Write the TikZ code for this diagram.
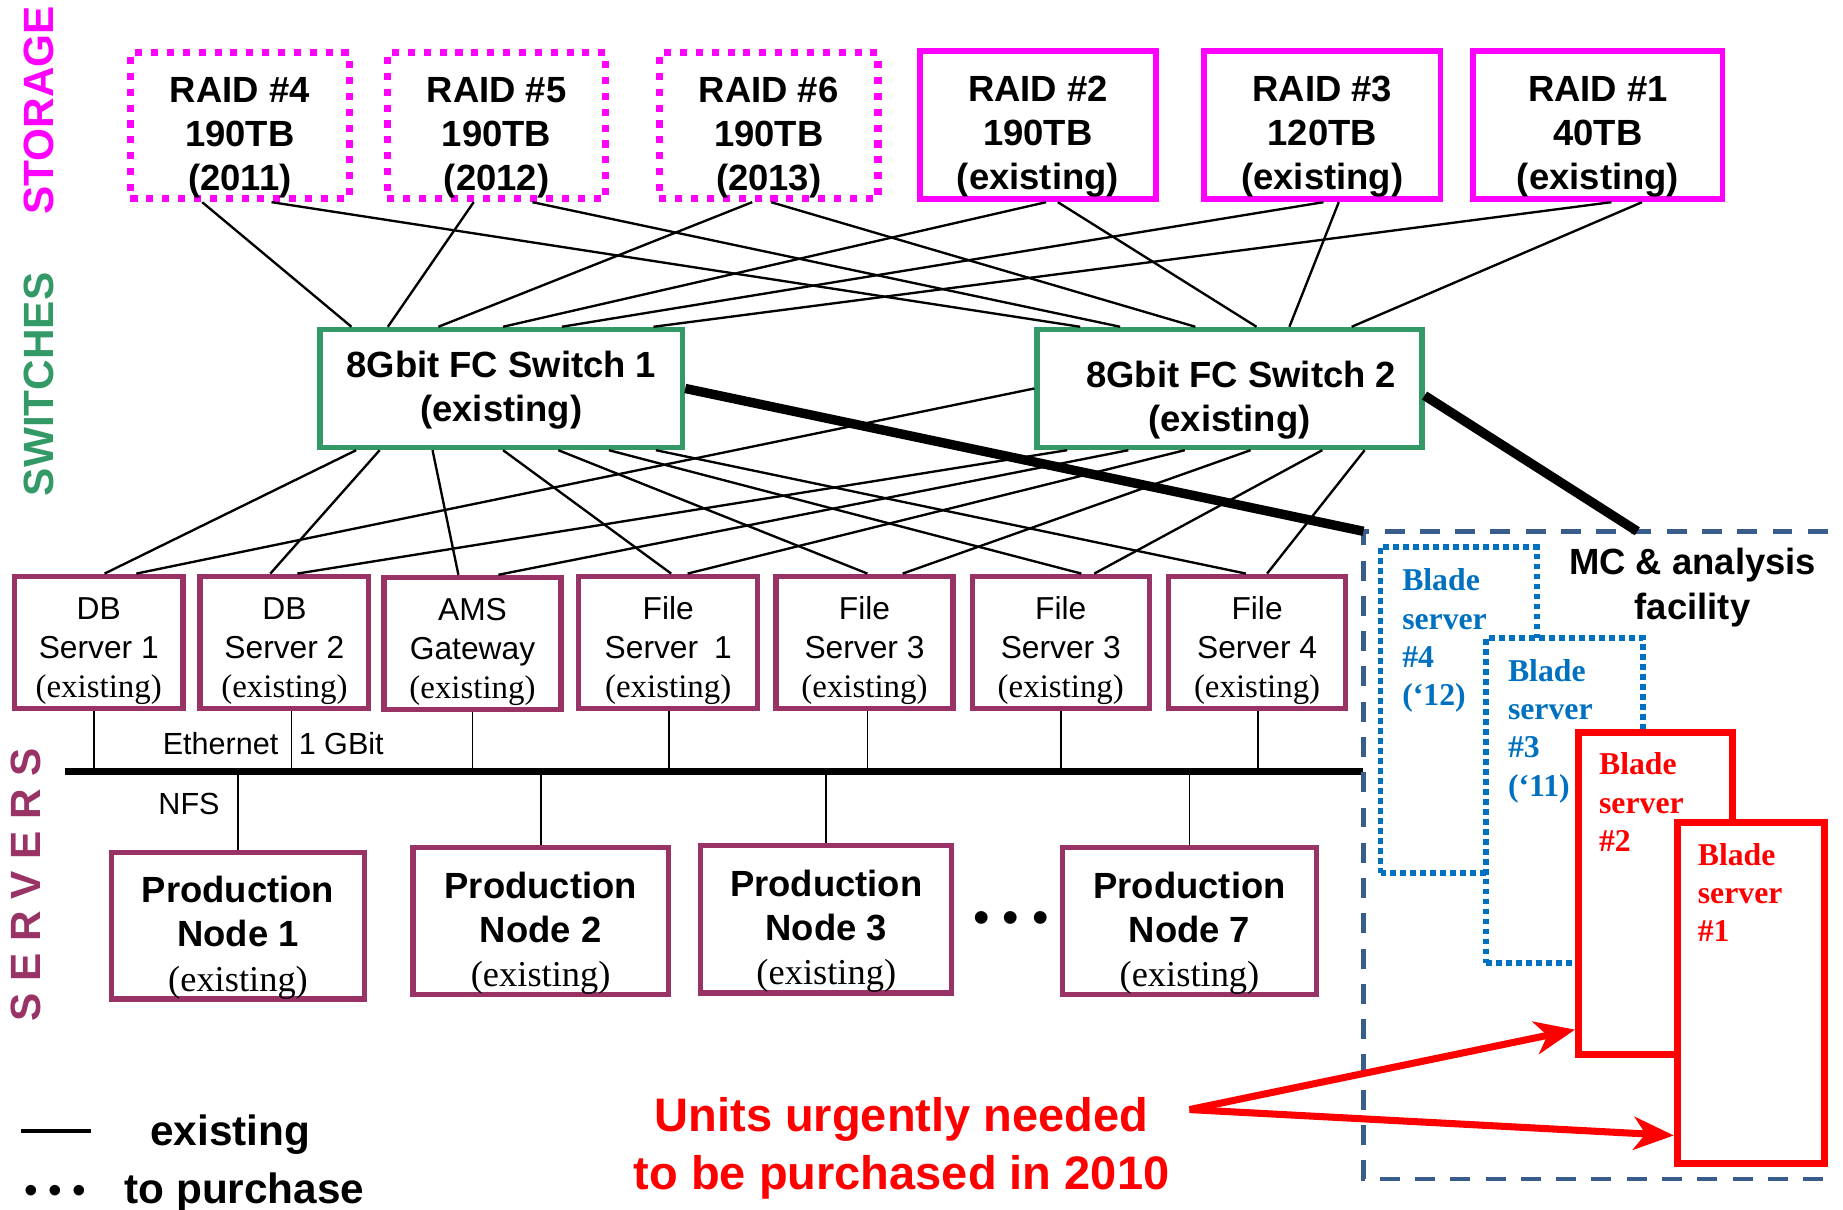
\documentclass[tikz,border=0pt]{standalone}
\usepackage{fontspec}
\setmainfont{Liberation Sans}
\newfontfamily\arial{Liberation Sans}
\newfontfamily\tnr{Liberation Serif}
\usetikzlibrary{arrows.meta,calc}
\definecolor{mag}{RGB}{255,0,255}
\definecolor{swgreen}{RGB}{51,153,102}
\definecolor{srvpurple}{RGB}{153,51,102}
\definecolor{mcblue}{RGB}{56,93,138}
\definecolor{bladeblue}{RGB}{0,112,192}
\definecolor{urgred}{RGB}{255,0,0}
\begin{document}
\begin{tikzpicture}[x=1pt,y=-1pt,
  raidnew/.style={draw=mag, line width=6pt, dash pattern=on 6pt off 7.5pt, minimum width=186pt, minimum height=124pt, inner sep=0pt, align=center, font=\arial\bfseries\fontsize{31}{37.5}\selectfont},
  raidold/.style={draw=mag, line width=5pt, minimum width=201pt, minimum height=126pt, inner sep=0pt, align=center, font=\arial\bfseries\fontsize{31}{37.5}\selectfont},
  switchbox/.style={draw=swgreen, line width=4.5pt, minimum height=100.5pt, inner sep=0pt, align=center, font=\arial\bfseries\fontsize{31}{37.5}\selectfont},
  serverbox/.style={draw=srvpurple, line width=4.5pt, minimum width=150.5pt, minimum height=112.5pt, inner sep=0pt, align=center, font=\arial\fontsize{27}{33}\selectfont},
  prodbox/.style={draw=srvpurple, line width=4.5pt, minimum width=215.5pt, minimum height=122.5pt, inner sep=0pt, align=center, font=\arial\bfseries\fontsize{31}{37.5}\selectfont},
  bladedot/.style={draw=bladeblue, fill=white, line width=5pt, dash pattern=on 5pt off 3.5pt, inner sep=18.5pt, text=bladeblue},
  bladered/.style={draw=urgred, fill=white, line width=6pt, inner sep=17.5pt, text=urgred},
  conn/.style={line width=2pt},
  drop/.style={line width=1.6pt},
  thickconn/.style={line width=8pt},
  redarrow/.style={draw=urgred, line width=6pt, -{Stealth[length=34pt, width=28pt, inset=10pt]}},
  sidelabel/.style={rotate=90, font=\arial\bfseries\fontsize{36}{36}\selectfont},
  plain/.style={font=\arial\fontsize{26}{26}\selectfont, inner sep=0pt},
  legendtext/.style={font=\arial\bfseries\fontsize{36}{36}\selectfont, inner sep=0pt}
]
\useasboundingbox (0,0) rectangle (1568,1029);

\newcommand{\ex}[1]{{\tnr\fontsize{#1}{33}\selectfont\mdseries (existing)}}
\newcommand{\st}[1]{\rule{0pt}{#1pt}}
\newcommand{\bladetxt}[3]{\parbox[c][#1pt][t]{#2pt}{\raggedright\tnr\bfseries\fontsize{27}{32.5}\selectfont #3}}

% side labels
\node[sidelabel, text=mag] (lstorage) at (33,94) {STORAGE};
\node[sidelabel, text=swgreen] (lswitches) at (33,327) {SWITCHES};
\node[sidelabel, text=srvpurple] (lservers) at (22,753) {S E R V E R S};

% storage
\node[raidnew] (r4) at (204,107) {\st{41}RAID \#4\\190TB\\(2011)};
\node[raidnew] (r5) at (422.5,107) {\st{41}RAID \#5\\190TB\\(2012)};
\node[raidnew] (r6) at (654,107) {\st{41}RAID \#6\\190TB\\(2013)};
\node[raidold] (r2) at (883,106.5) {\st{41}RAID \#2\\190TB\\(existing)};
\node[raidold] (r3) at (1125,106.5) {\st{41}RAID \#3\\120TB\\(existing)};
\node[raidold, minimum width=212pt] (r1) at (1359.5,106.5) {\st{41}RAID \#1\\40TB\\(existing)};

% switches
\node[switchbox, minimum width=308.5pt] (s1) at (426.5,330.5) {\st{26}8Gbit FC Switch 1\\(existing)};
\node[switchbox, minimum width=327.5pt] (s2) at (1046,330.5) {\st{42}\hspace*{20pt}8Gbit FC Switch 2\\(existing)};

% servers
\node[serverbox, minimum width=143.5pt] (db1) at (84,546.5) {\st{33.5}DB\\Server 1\\\ex{28}};
\node[serverbox, minimum width=143.5pt] (db2) at (242,546.5) {\st{33.5}DB\\Server 2\\\ex{28}};
\node[serverbox] (ams) at (402,547.5) {\st{33.5}AMS\\Gateway\\\ex{28}};
\node[serverbox, minimum width=152.5pt] (f1) at (568.5,546.5) {\st{33.5}File\\Server\enspace 1\\\ex{28}};
\node[serverbox] (f3) at (735.5,546.5) {\st{33.5}File\\Server 3\\\ex{28}};
\node[serverbox] (f3b) at (902.5,546.5) {\st{33.5}File\\Server 3\\\ex{28}};
\node[serverbox] (f4) at (1069.5,546.5) {\st{33.5}File\\Server 4\\\ex{28}};

% production nodes
\node[prodbox] (pn1) at (202.5,787.5) {\st{43}Production\\Node 1\\\ex{31}};
\node[prodbox, minimum width=217.5pt] (pn2) at (460,783.5) {\st{43}Production\\Node 2\\\ex{31}};
\node[prodbox, minimum width=213.5pt, minimum height=125.5pt] (pn3) at (703,782) {\st{43}Production\\Node 3\\\ex{31}};
\node[prodbox] (pn7) at (1012,783.5) {\st{43}Production\\Node 7\\\ex{31}};
\node[font=\arial\fontsize{40}{40}\selectfont, inner sep=0pt] (dots) at (860,785) {• • •};

% ethernet bus
\coordinate (busL) at (55,656);
\coordinate (busR) at (1160,656);
\draw[line width=6pt] (busL) -- (busR);
\node[plain, anchor=east] (eth) at (237,633) {Ethernet};
\node[plain, anchor=west] (gbit) at (254,633) {1 GBit};
\node[plain, anchor=east] (nfs) at (187,684) {NFS};
\draw[drop] (80,0 |- db1.south) -- (80,0 |- busL);
\draw[drop] (248,0 |- db2.south) -- (248,0 |- busL);
\draw[drop] (402,0 |- ams.south) -- (402,0 |- busL);
\draw[drop] (569,0 |- f1.south) -- (569,0 |- busL);
\draw[drop] (738,0 |- f3.south) -- (738,0 |- busL);
\draw[drop] (903,0 |- f3b.south) -- (903,0 |- busL);
\draw[drop] (1070,0 |- f4.south) -- (1070,0 |- busL);
\draw[drop] (pn1.north) -- (pn1.north |- busL);
\draw[drop] (pn2.north) -- (pn2.north |- busL);
\draw[drop] (pn3.north) -- (pn3.north |- busL);
\draw[drop] (pn7.north) -- (pn7.north |- busL);

% storage to switches
\draw[conn] (172,0 |- r4.south) -- (299,0 |- s1.north);
\draw[conn] (231,0 |- r4.south) -- (919,0 |- s2.north);
\draw[conn] (403,0 |- r5.south) -- (330,0 |- s1.north);
\draw[conn] (453,0 |- r5.south) -- (953,0 |- s2.north);
\draw[conn] (640,0 |- r6.south) -- (373,0 |- s1.north);
\draw[conn] (656,0 |- r6.south) -- (1017,0 |- s2.north);
\draw[conn] (890,0 |- r2.south) -- (428,0 |- s1.north);
\draw[conn] (900,0 |- r2.south) -- (1069,0 |- s2.north);
\draw[conn] (1126,0 |- r3.south) -- (478,0 |- s1.north);
\draw[conn] (1139,0 |- r3.south) -- (1097,0 |- s2.north);
\draw[conn] (1371,0 |- r1.south) -- (556,0 |- s1.north);
\draw[conn] (1397,0 |- r1.south) -- (1150,0 |- s2.north);

% switches to servers
\draw[conn] (303,0 |- s1.south) -- (89,0 |- db1.north);
\draw[conn] (323,0 |- s1.south) -- (230,0 |- db2.north);
\draw[conn] (368,0 |- s1.south) -- (390,0 |- ams.north);
\draw[conn] (428,0 |- s1.south) -- (571,0 |- f1.north);
\draw[conn] (475,0 |- s1.south) -- (738,0 |- f3.north);
\draw[conn] (518,0 |- s1.south) -- (920,0 |- f3b.north);
\draw[conn] (558,0 |- s1.south) -- (1060,0 |- f4.north);
\draw[conn] (s2.west) -- (116,0 |- db1.north);
\draw[conn] (908,0 |- s2.south) -- (253,0 |- db2.north);
\draw[conn] (960,0 |- s2.south) -- (424,0 |- ams.north);
\draw[conn] (1008,0 |- s2.south) -- (585,0 |- f1.north);
\draw[conn] (1064,0 |- s2.south) -- (768,0 |- f3.north);
\draw[conn] (1125,0 |- s2.south) -- (931,0 |- f3b.north);
\draw[conn] (1161,0 |- s2.south) -- (1078,0 |- f4.north);

% MC & analysis facility
\coordinate (mcTL) at (1160,452);
\coordinate (mcTR) at (1555,452);
\coordinate (mcBL) at (1160,1003);
\coordinate (mcBR) at (1555,1003);
\coordinate (mcT) at (1393,452);
\draw[draw=mcblue, line width=4pt, dash pattern=on 17pt off 13pt] (mcTR) -- (mcTL) -- (mcBL) -- (mcBR);
\draw[thickconn] (s1.east) -- (mcTL);
\draw[thickconn] ([yshift=-6pt]s2.east) -- (mcT);
\node[font=\arial\bfseries\fontsize{31}{38}\selectfont, align=center, inner sep=0pt] (mc) at (1440,500) {MC \& analysis\\facility};

\node[bladedot] (b4) at (1241,604) {\bladetxt{240}{96}{Blade\\server\\\#4\\(‘12)}};
\node[bladedot] (b3) at (1331,681) {\bladetxt{240}{96}{Blade\\server\\\#3\\(‘11)}};
\node[bladered] (b2) at (1408.5,760) {\bladetxt{239}{96}{Blade\\server\\\#2}};
\node[bladered] (b1) at (1489.5,845) {\bladetxt{255}{90}{Blade\\server\\\#1}};

% urgent note
\node[font=\arial\bfseries\fontsize{40}{49}\selectfont, text=urgred, align=center, inner sep=0pt] (urgent) at (767,977) {Units urgently needed\\to be purchased in 2010};
\coordinate (fork) at (1012,944);
\draw[redarrow] (fork) -- (b2.west |- 0,876);
\draw[redarrow] (fork) -- (b1.west |- 0,966);

% legend
\coordinate (legA) at (18,962);
\coordinate (legB) at (77,962);
\draw[line width=3pt] (legA) -- (legB);
\node[legendtext] (legex) at (196,965) {existing};
\node[font=\arial\fontsize{33}{33}\selectfont, inner sep=0pt] (legdots) at (47,1016) {• • •};
\node[legendtext] (legpur) at (208,1015) {to purchase};
\end{tikzpicture}
\end{document}
